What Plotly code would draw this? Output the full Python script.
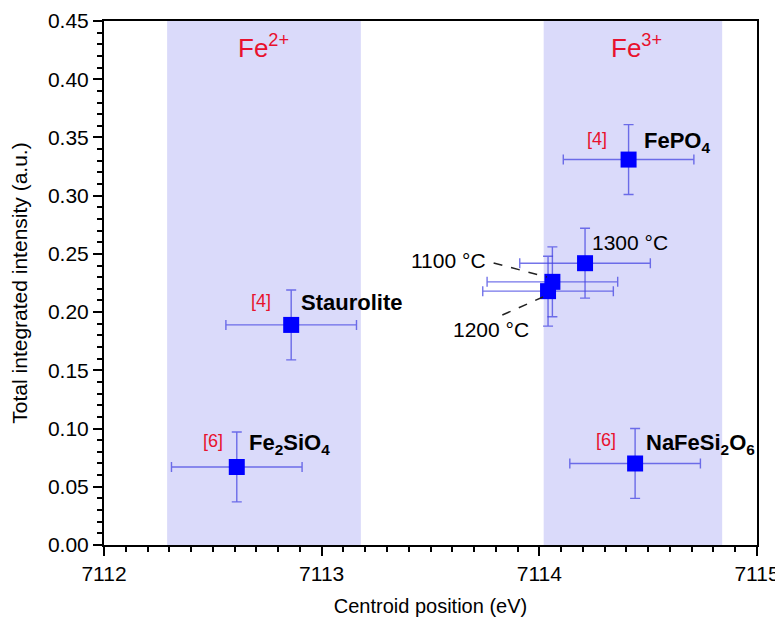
import plotly.graph_objects as go

# ---- data ----
samples = ["Fe2SiO4", "Staurolite", "FePO4", "NaFeSi2O6", "1100 °C", "1200 °C", "1300 °C"]
centroid = [7112.61, 7112.86, 7114.41, 7114.44, 7114.06, 7114.04, 7114.21]
intensity = [0.067, 0.189, 0.331, 0.070, 0.226, 0.218, 0.242]
centroid_err = [0.30, 0.30, 0.30, 0.30, 0.30, 0.30, 0.30]
intensity_err = [0.030, 0.030, 0.030, 0.030, 0.030, 0.030, 0.030]

fe2_band = [7112.29, 7113.18]
fe3_band = [7114.02, 7114.84]

x_ticks = [7112, 7113, 7114, 7115]
y_ticks = [0.00, 0.05, 0.10, 0.15, 0.20, 0.25, 0.30, 0.35, 0.40, 0.45]

FONT = "Liberation Sans, Arial, sans-serif"
RED = "#e8112d"
BAND = "rgba(218,218,250,1)"
ERR = "rgba(70,70,225,0.75)"

fig = go.Figure()

fig.add_trace(go.Scatter(
    x=centroid, y=intensity, mode="markers",
    marker=dict(symbol="square", size=16, color="#0000ff", line=dict(width=0)),
    error_x=dict(type="data", array=centroid_err, color=ERR, thickness=1.4, width=5),
    error_y=dict(type="data", array=intensity_err, color=ERR, thickness=1.4, width=5),
    showlegend=False, text=samples, hoverinfo="x+y+text",
))

shapes = []
for b in (fe2_band, fe3_band):
    shapes.append(dict(type="rect", xref="x", yref="paper", x0=b[0], x1=b[1], y0=0, y1=1,
                       fillcolor=BAND, line=dict(width=0), layer="below"))
# dashed leader lines
shapes.append(dict(type="line", xref="x", yref="y", x0=7113.79, y0=0.2422, x1=7114.035, y1=0.2301,
                   line=dict(color="#222", width=1.5, dash="dash")))
shapes.append(dict(type="line", xref="x", yref="y", x0=7113.83, y0=0.1975, x1=7114.017, y1=0.2130,
                   line=dict(color="#222", width=1.5, dash="dash")))

annotations = []
def ann(text, x, y, size, color="black", xanchor="center"):
    annotations.append(dict(text=text, x=x, y=y, xref="x", yref="y", showarrow=False,
                            xanchor=xanchor, yanchor="middle",
                            font=dict(family=FONT, size=size, color=color)))

ann("Fe<sup>2+</sup>", 7112.735, 0.428, 26, RED)
ann("Fe<sup>3+</sup>", 7114.445, 0.428, 26, RED)
ann("[4]", 7112.72, 0.2095, 18, RED)
ann("<b>Staurolite</b>", 7112.895, 0.2085, 22, xanchor="left")
ann("[6]", 7112.50, 0.0893, 18, RED)
ann("<b>Fe<sub>2</sub>SiO<sub>4</sub></b>", 7112.655, 0.0870, 22, xanchor="left")
ann("[4]", 7114.265, 0.3487, 18, RED)
ann("<b>FePO<sub>4</sub></b>", 7114.47, 0.3460, 22, xanchor="left")
ann("[6]", 7114.306, 0.0902, 18, RED)
ann("<b>NaFeSi<sub>2</sub>O<sub>6</sub></b>", 7114.48, 0.0870, 22, xanchor="left")
ann("1300 °C", 7114.235, 0.2594, 21, xanchor="left")
ann("1100 °C", 7113.765, 0.2447, 21, xanchor="right")
ann("1200 °C", 7113.595, 0.1855, 21, xanchor="left")

fig.update_layout(
    width=775, height=612,
    margin=dict(l=96, r=26, t=13, b=75),
    paper_bgcolor="white", plot_bgcolor="white",
    font=dict(family=FONT, size=20, color="black"),
    shapes=shapes, annotations=annotations,
    xaxis=dict(
        range=[7112, 7115], tickvals=x_ticks, ticktext=[str(v) for v in x_ticks],
        showline=True, linecolor="black", linewidth=2, mirror=True,
        ticks="outside", ticklen=9, tickwidth=2, tickcolor="black",
        minor=dict(dtick=0.1, ticks="outside", ticklen=5, tickwidth=1.5, tickcolor="black", showgrid=False),
        showgrid=False, zeroline=False, automargin=False,
        title=dict(text="Centroid position (eV)", font=dict(size=20)),
        tickfont=dict(size=21),
    ),
    yaxis=dict(
        range=[0, 0.45], tickvals=y_ticks, ticktext=[f"{v:.2f}" for v in y_ticks],
        showline=True, linecolor="black", linewidth=2, mirror=True,
        ticks="outside", ticklen=9, tickwidth=2, tickcolor="black",
        minor=dict(dtick=0.01, ticks="outside", ticklen=5, tickwidth=1.5, tickcolor="black", showgrid=False),
        showgrid=False, zeroline=False, automargin=False,
        title=dict(text="Total integrated intensity (a.u.)", font=dict(size=21)),
        tickfont=dict(size=21),
    ),
)

fig.write_html("out.html")
